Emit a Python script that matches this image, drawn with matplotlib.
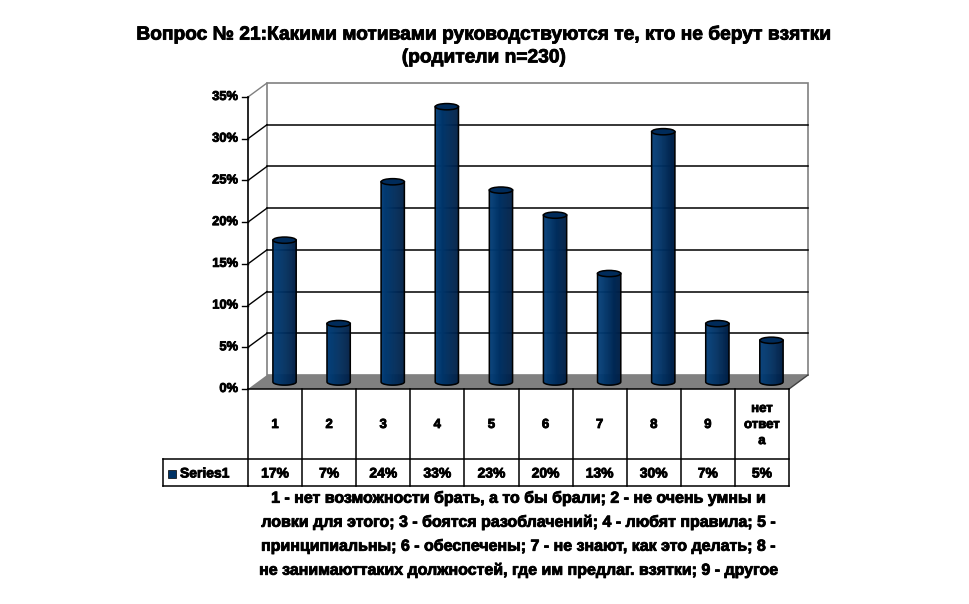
import numpy as np
import matplotlib
matplotlib.use("Agg")
import matplotlib.pyplot as plt
from matplotlib import transforms as mtransforms
from matplotlib.patches import Polygon, Ellipse, Rectangle
from matplotlib.lines import Line2D
import matplotlib.patheffects as pe

# ---- data ----
categories = ["1", "2", "3", "4", "5", "6", "7", "8", "9", "нет\nответ\nа"]
values = [17, 7, 24, 33, 23, 20, 13, 30, 7, 5]
value_labels = ["17%", "7%", "24%", "33%", "23%", "20%", "13%", "30%", "7%", "5%"]
series_name = "Series1"
y_ticks = [0, 5, 10, 15, 20, 25, 30, 35]
title = "Вопрос № 21:Какими мотивами руководствуются те, кто не берут взятки\n(родители n=230)"
footnote_lines = [
    "1 - нет возможности брать, а то бы брали; 2 - не очень умны и",
    "ловки для этого; 3 - боятся разоблачений; 4 - любят правила; 5 -",
    "принципиальны; 6 - обеспечены; 7 - не знают, как это делать; 8 -",
    "не занимаюттаких должностей, где им предлаг. взятки; 9 - другое",
]

plt.rcParams['font.family'] = ['Liberation Sans', 'DejaVu Sans']
W, H = 970, 604
fig = plt.figure(figsize=(W / 100, H / 100), dpi=100)
fig.patch.set_facecolor('white')
heavy = [pe.withStroke(linewidth=0.6, foreground='black')]

x0, x1, y0, y1 = 248, 789, 389, 97
ax = fig.add_axes([x0 / W, (H - y0) / H, (x1 - x0) / W, (y0 - y1) / H])
n = len(categories)
ax.set_xlim(0, n)
ax.set_ylim(0, 35)
ax.axis('off')

DX, DY = 19, 14
t_back = mtransforms.offset_copy(ax.transData, fig=fig, x=DX, y=DY, units='dots')
t_mid = mtransforms.offset_copy(ax.transData, fig=fig, x=DX / 2, y=DY / 2, units='dots')

GRAY = '#808080'

# back wall
ax.add_patch(Rectangle((0, 0), n, 35, transform=t_back, facecolor='white',
                       edgecolor=GRAY, lw=1.2, clip_on=False, zorder=1))
# gridlines on back wall
for yv in y_ticks[1:-1]:
    ax.add_line(Line2D([0, n], [yv, yv], transform=t_back, color='black', lw=1.1,
                       clip_on=False, zorder=2))
# left wall diagonals
for yv in y_ticks[1:]:
    fx, fy_ = ax.transData.transform((0, yv))
    ax.add_line(Line2D([fx, fx + DX], [fy_, fy_ + DY], transform=mtransforms.IdentityTransform(),
                       color=('black' if yv < 35 else GRAY), lw=1, clip_on=False, zorder=2))
# floor
p0 = ax.transData.transform((0, 0))
p1 = ax.transData.transform((n, 0))
floor = np.array([p0, p1, p1 + [DX, DY], p0 + [DX, DY]])
ax.add_patch(Polygon(floor, closed=True, transform=mtransforms.IdentityTransform(),
                     facecolor=GRAY, edgecolor='none', clip_on=False, zorder=2))
ax.add_line(Line2D([p1[0], p1[0] + DX], [p1[1], p1[1] + DY], transform=mtransforms.IdentityTransform(),
                   color='#404040', lw=1, clip_on=False, zorder=2))

# front axis
ax.add_line(Line2D([0, 0], [0, 35], transform=ax.transData, color='black', lw=1.2,
                   clip_on=False, zorder=3))
t_lab = mtransforms.offset_copy(ax.transData, fig=fig, x=-10, y=0, units='dots')
for yv in y_ticks:
    fx, fy_ = ax.transData.transform((0, yv))
    ax.add_line(Line2D([fx - 6, fx], [fy_, fy_], transform=mtransforms.IdentityTransform(),
                       color='black', lw=1, clip_on=False, zorder=3))
    ax.text(0, yv, f"{yv}%", transform=t_lab, ha='right', va='center',
            fontsize=9.3, fontweight='bold', clip_on=False, path_effects=heavy)

# cylinders
bw = 0.43
eh = 0.75
c_left = np.array([0.02, 0.25, 0.48])
c_mid = np.array([0.0, 0.21, 0.42])
c_right = np.array([0.0, 0.12, 0.27])
nstrip = 24
for i, v in enumerate(values):
    cx = i + 0.5
    xs = np.linspace(cx - bw / 2, cx + bw / 2, nstrip + 1)
    def ybot(x):
        r = np.clip((x - cx) / (bw / 2), -1, 1)
        return -eh / 2 * np.sqrt(1 - r ** 2)
    for k in range(nstrip):
        xa, xb = xs[k], xs[k + 1]
        f = (k + 0.5) / nstrip
        if f < 0.3:
            col = c_left + (c_mid - c_left) * (f / 0.3)
        else:
            col = c_mid + (c_right - c_mid) * ((f - 0.3) / 0.7)
        poly = [(xa, v), (xb, v), (xb, ybot(xb)), (xa, ybot(xa))]
        ax.add_patch(Polygon(poly, closed=True, transform=t_mid, facecolor=col,
                             edgecolor=col, lw=0.4, clip_on=False, zorder=4))
    tt = np.linspace(np.pi, 2 * np.pi, 40)
    ox = np.concatenate([[cx - bw / 2], cx + bw / 2 * np.cos(tt), [cx + bw / 2]])
    oy = np.concatenate([[v], eh / 2 * np.sin(tt), [v]])
    ax.add_line(Line2D(ox, oy, transform=t_mid, color='black', lw=1.1, clip_on=False, zorder=5))
    ax.add_patch(Ellipse((cx, v), bw, eh, transform=t_mid, facecolor='#002b5a',
                         edgecolor='black', lw=1.1, clip_on=False, zorder=6))

# data table
bt = mtransforms.blended_transform_factory(ax.transData, fig.transFigure)
def fy(px):
    return (H - px) / H
r_top, r_mid, r_bot = 389, 459, 486
leg_left = 163
lines_kw = dict(color='black', lw=1.1, clip_on=False, zorder=7)
ax.add_line(Line2D([0, n], [fy(r_top), fy(r_top)], transform=bt, **lines_kw))
ax.add_line(Line2D([0, n], [fy(r_bot), fy(r_bot)], transform=bt, **lines_kw))
for k in range(n + 1):
    ax.add_line(Line2D([k, k], [fy(r_top), fy(r_bot)], transform=bt, **lines_kw))
fig.add_artist(Line2D([leg_left / W, x1 / W], [fy(r_mid), fy(r_mid)], transform=fig.transFigure,
                      color='black', lw=1.1))
fig.add_artist(Line2D([leg_left / W, x0 / W], [fy(r_bot), fy(r_bot)], transform=fig.transFigure,
                      color='black', lw=1.1))
fig.add_artist(Line2D([leg_left / W, leg_left / W], [fy(r_mid), fy(r_bot)], transform=fig.transFigure,
                      color='black', lw=1.1))
for i, (c, lab) in enumerate(zip(categories, value_labels)):
    ax.text(i + 0.5, fy((r_top + r_mid) / 2 + 1), c, transform=bt, ha='center', va='center',
            fontsize=9.5, fontweight='bold', linespacing=1.45, clip_on=False, path_effects=heavy)
    ax.text(i + 0.5, fy((r_mid + r_bot) / 2 + 1), lab, transform=bt, ha='center', va='center',
            fontsize=10, fontweight='bold', clip_on=False, path_effects=heavy)
fig.add_artist(Rectangle((168 / W, fy(478)), 8 / W, 8 / H, transform=fig.transFigure,
                         facecolor='#003366', edgecolor='black', lw=0.5))
fig.text(180 / W, fy((r_mid + r_bot) / 2 + 1), series_name, ha='left', va='center',
         fontsize=10, fontweight='bold', path_effects=heavy)

# title
fig.text(484 / W, fy(46), title, ha='center', va='center', fontsize=13.8, fontweight='bold',
         linespacing=1.45, path_effects=heavy)

# footnote
for j, line in enumerate(footnote_lines):
    fig.text(520 / W, fy(498 + 24 * j), line, ha='center', va='center', fontsize=11.5,
             fontweight='bold', path_effects=heavy)

fig.savefig('out.png', dpi=100, facecolor='white')
